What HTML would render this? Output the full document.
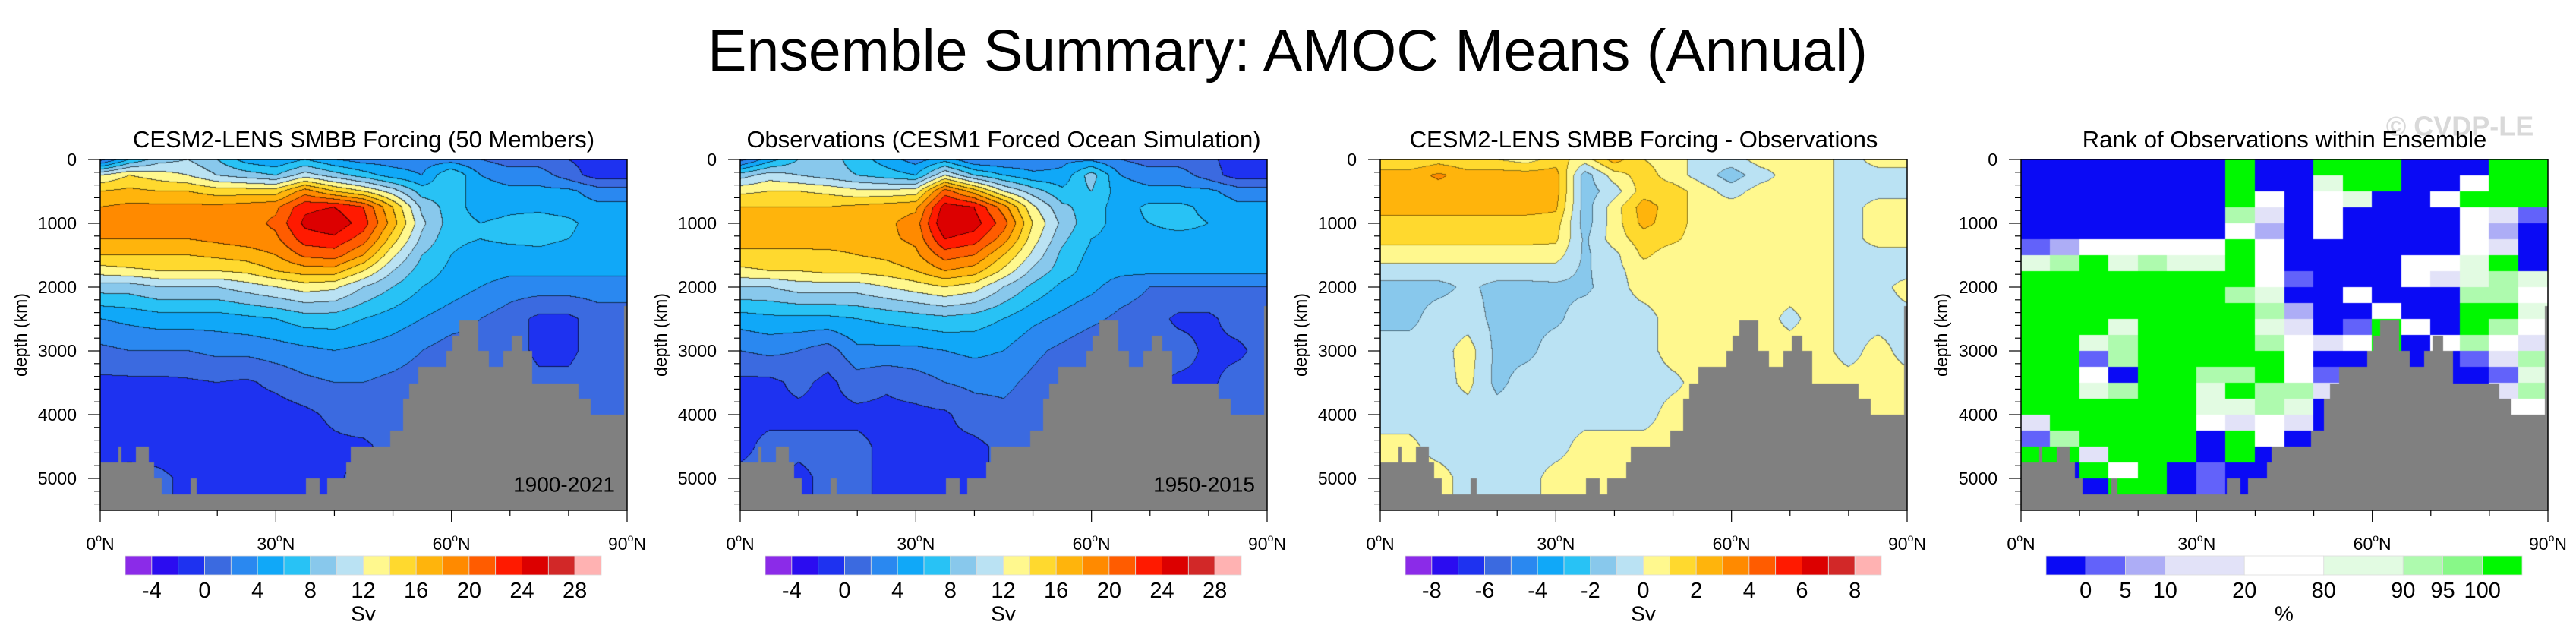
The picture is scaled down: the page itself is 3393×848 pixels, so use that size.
<!DOCTYPE html>
<html><head><meta charset="utf-8">
<style>
body{margin:0;width:3393px;height:848px;position:relative;background:#fff;overflow:hidden;font-family:"Liberation Sans",sans-serif}
canvas{position:absolute}
#ov{position:absolute;left:0;top:0}
</style></head>
<body>
<canvas id="c0" width="694" height="462" style="left:132px;top:210px"></canvas>
<canvas id="c1" width="694" height="462" style="left:975px;top:210px"></canvas>
<canvas id="c2" width="694" height="462" style="left:1818px;top:210px"></canvas>
<canvas id="c3" width="694" height="462" style="left:2662px;top:210px"></canvas>
<svg id="ov" width="3393" height="848" xmlns="http://www.w3.org/2000/svg">
<text x="1696" y="93" font-size="77" text-anchor="middle" font-family="Liberation Sans">Ensemble Summary: AMOC Means (Annual)</text>
<text x="3240" y="166" font-size="36" font-weight="bold" fill="#d9d9d9" text-anchor="middle" dominant-baseline="central">© CVDP-LE</text>
</svg>
<script>
const lats=[0,5,10,15,20,25,30,35,40,45,50,55,60,65,70,75,80,85,90];
const depths=[0,250,500,750,1000,1250,1500,1750,2000,2500,3000,3500,4000,4500,5000,5500];
const ensMean=[
[1,6,9,10,8,5,4,6,4,3,3,3,3,2,1,1,0,-1,-1],
[12,14,13,12,10,9,8,11,9,7,5,4,8,4,3,3,1,-1,-1],
[16,16.5,16,16,15,15,15,19,16,14,11,7,7,5,4.5,4.5,4.5,3,3],
[18,18.5,18.5,18.5,18.5,19,19.5,23.5,24,22,16,9.5,7,5,5.5,5.5,5,4.5,4.5],
[18.5,18.5,19,19,19,19,20.5,24.5,25.5,23,17,10.5,7,6,6.5,7,6.5,5,5],
[18,18,18,18,18.5,19,19.5,23,23.5,21,15,9.5,6.5,6,6.5,6.5,6,5,5],
[16,16,16,16,16.5,17,18,20.5,21,18,12.5,8,6,5,5,5.5,5,5,5],
[13,13.5,14,14,14,14.5,16,17,17,14,10,7,5.5,5,4.5,4.5,4.5,4.5,4.5],
[9,9,10,10,10,11,12,13,12.5,10,8,6,5,4,3,3,3,3,3],
[4,4.5,5,5,5,5.5,6,7,7,6,5,4,3,2,1,-0.5,-0.5,1,1],
[1.5,2,2,2,2.5,2.5,3,3.5,4,3.5,3,2,1,1,1,-0.5,-0.5,1,1],
[-0.5,-0.5,-0.5,-0.3,0,-0.3,0.5,1.5,2,2,1.5,1,1,1,1,0.5,0.5,1,1],
[-1,-1,-1,-1,-1,-1,-1,-0.5,0.5,1.5,1,1,1,1,1,1,1,1,1],
[-1,-1,-1,-1,-1,-1,-1,-1,-0.5,-0.5,1,1,1,1,1,1,1,1,1],
[0.5,1,0.5,-0.5,0,-0.5,0,-0.5,-0.5,1,1,1,1,1,1,1,1,1,1],
[0.5,1,0.5,-0.5,0,-0.5,0,-0.5,-0.5,1,1,1,1,1,1,1,1,1,1]];
const obsMean=[
[1,5,8,9,7,5,3,5,2,2,2.5,3.5,3.5,2,1,1,0.5,-1,-1],
[9,11,10,9,8,7,6,12,8,6,4.5,4.5,9,4,3,3,1,-1,-1],
[13.5,14,14,13.5,12.5,12.5,13,21,17,12,9,6.5,8,5,4.5,4.5,4.5,3,3],
[16,16,16,16,16.5,17,17.5,25,24,19,12.5,8.5,7,5,6.5,6.5,5.5,4.5,4.5],
[17,17,17,17,17,17.5,19,26,25,21,14,9.5,6.5,5.5,6,6.5,6,5,5],
[16.8,16.8,16.8,17,17,17.5,18.5,24,23,19,13,8.5,6,5.5,5.5,5.5,5.5,5,5],
[15.5,15.5,15.5,15.5,16,16.5,17.5,21,20,16,11.5,7.5,5.5,5,5,5,5,5,5],
[13.5,14,14,14.5,14.5,15,16,18,17,13.5,9.5,7,5,4.5,4.5,4.5,4.5,4.5,4.5],
[10,10,11,11,11,12,13,14,13,10,7.5,5.5,4.5,3,2,2,2,2,2],
[5,5.5,5.5,5.5,6,6.5,7,7.5,7,6,4.5,3.5,2.5,1.5,1,-0.5,-0.5,1,1],
[2,2.5,2,1,3.5,3.5,3.5,4,4.5,4,2.5,1.5,0.5,0.5,1,1,-0.5,-0.5,1],
[-0.5,-0.5,0.5,-0.5,1,0.3,1,2,2.5,2.5,1.5,0.5,0.5,0.5,0.5,-0.5,-0.5,1,1],
[-0.5,-0.5,-0.5,-0.5,-0.5,-0.5,-0.5,-0.3,1,1.5,1,1,1,1,1,1,1,1,1],
[-0.5,0.5,0.5,0.5,0.5,-0.5,-0.5,-0.5,-0.5,0.5,1,1,1,1,1,1,1,1,1],
[0.5,0.5,-0.5,0.5,0.5,-0.5,-0.5,-0.5,-0.5,0.5,1,1,1,1,1,1,1,1,1],
[0.5,0.5,-0.5,0.5,0.5,-0.5,-0.5,-0.5,-0.5,0.5,1,1,1,1,1,1,1,1,1]];
const diffMean=[
[1,1,1.5,1,1,0.5,1.5,0.5,2.5,1,0.5,-0.5,-0.5,0.5,0.5,0.5,-0.5,0.5,0.5],
[2.5,2.5,3.2,2.5,2.5,2.5,2.5,-1.5,0.5,1.5,0.5,-0.5,-1.5,-0.5,0.5,0.5,-0.5,-0.5,-0.5],
[2.5,2.5,2.5,2.5,2.5,2.5,2.5,-1.5,-0.5,1.5,1.5,0.5,-0.5,0.5,0.5,0.5,-0.5,-0.5,-0.5],
[2.5,2.5,2.5,2.5,2.5,2.5,2.2,-1.5,0.5,2.5,1.5,0.5,0.5,0.5,0.5,0.5,-0.5,0.5,0.5],
[1.5,1.5,1.5,1.5,1.5,1.5,1.5,-1.5,0.5,2.3,1.5,0.5,0.5,0.5,0.5,0.5,-0.5,0.5,0.5],
[1.3,1.3,1.3,1.3,1.3,1.3,1.2,-1.2,0.5,1.5,1.2,0.5,0.5,0.5,0.5,0.5,-0.5,0.5,0.5],
[0.5,0.5,0.5,0.5,0.5,0.5,0.5,-1.2,-0.3,1.2,0.5,0.5,0.5,0.5,0.5,0.5,-0.5,-0.5,-0.5],
[-0.5,-0.5,-0.5,-0.5,-0.5,-0.5,-0.5,-1.2,-0.3,0.5,0.5,0.3,0.5,0.5,0.5,0.5,-0.5,-0.5,-0.5],
[-1.3,-1.3,-1.3,-0.8,-1.3,-1.3,-1.2,-1.2,-0.5,0.5,0.5,0.5,0.5,0.5,0.5,0.5,-0.5,-0.5,0.5],
[-1.3,-1.3,-0.5,-0.5,-1.3,-1.3,-1.2,-0.5,-0.5,-0.5,0.5,0.5,0.5,0.5,-0.3,0.5,-0.5,-0.5,-0.5],
[-0.5,-0.5,-0.5,0.5,-1.3,-1.3,-0.5,-0.5,-0.5,-0.5,0.5,0.5,0.5,0.5,0.5,0.5,-0.5,0.5,-0.5],
[-0.5,-0.5,-0.5,0.3,-1.3,-0.5,-0.5,-0.5,-0.5,-0.5,-0.3,0.5,0.5,0.5,0.5,0.5,0.5,0.5,0.5],
[-0.5,-0.5,-0.5,-0.5,-0.5,-0.5,-0.5,-0.5,-0.5,-0.5,0.5,0.5,0.5,0.5,0.5,0.5,0.5,0.5,0.5],
[0.3,0.3,-0.5,-0.5,-0.5,-0.5,-0.5,0.5,0.5,0.5,0.5,0.5,0.5,0.5,0.5,0.5,0.5,0.5,0.5],
[0.5,0.5,0.5,-0.5,-0.5,-0.5,0.5,0.5,0.5,0.5,0.5,0.5,0.5,0.5,0.5,0.5,0.5,0.5,0.5],
[0.5,0.5,0.5,-0.5,-0.5,-0.5,0.5,0.5,0.5,0.5,0.5,0.5,0.5,0.5,0.5,0.5,0.5,0.5,0.5]];
const rankRows=[
"000000080088800088","000000080058800488","000000084045004888","000000063040000431",
"000000042040000420","124444484000000430","568565584000044580","888888884100043565",
"888888865004000664","888888886200400885","888588885301840864","885688886434804643",
"881688888400000136","884088668410000015","885688586630000036","888888556500000044",
"388888434300000000","168888084000000000","883888080000000000","008480100000000000",
"000880100000000000","000000000000000000"];
const topoLatEdges=[0,3.2,3.5,6.1,8.1,9.1,10.3,15.5,16.3,35.2,37.3,38.9,42.1,42.8,49.6,51.8,52.9,54.4,59.2,60.3,61.4,64.5,66.2,68.9,70.4,72.0,73.6,81.6,83.6,89.5,90];
const topoDepth=[4755,4510,4755,4510,4755,5005,5255,5005,5255,5005,5255,5005,4755,4510,4260,3755,3515,3260,3010,2770,2530,3010,3260,3010,2770,3010,3515,3755,4005,2300];
const svTicks=[-4,0,4,8,12,16,20,24,28];
const diffTicks=[-8,-6,-4,-2,0,2,4,6,8];
const rankTicks=["0","5","10","20","80","90","95","100"];
const rankEdges=[0,1,2,3,5,7,9,10,11,12];
const depthTicks=[0,1000,2000,3000,4000,5000];
const latTicks=[0,30,60,90];
const palette=['#8b2be8','#2b0cf0','#1e32f0','#3b6ae0','#2a88f0','#10a8f8','#28c2f5','#88c8ec','#bae2f3','#fff88e','#ffd92e','#ffb40c','#ff8a00','#ff5c00','#ff1a00','#dc0000','#d22828','#ffb2b2'];
const rankColors=['#0a0af5','#6262fa','#adadf6','#e2e2f8','#ffffff','#e2fbe2','#aefaae','#88f888','#00f800'];

const PL=[132,975,1818,2662],PT=210,PW=694,PH=462,DMAX=5500;
const NS='http://www.w3.org/2000/svg';
const ov=document.getElementById('ov');
function hex(c){return [parseInt(c.substr(1,2),16),parseInt(c.substr(3,2),16),parseInt(c.substr(5,2),16)];}
function interp(g,lat,d){
  let i=Math.min(17,Math.floor(lat/5)),t=(lat-lats[i])/5;
  let j=0;while(j<depths.length-2&&d>depths[j+1])j++;
  let u=Math.max(0,Math.min(1,(d-depths[j])/(depths[j+1]-depths[j])));
  const a=g[j][i]*(1-t)+g[j][i+1]*t,b=g[j+1][i]*(1-t)+g[j+1][i+1]*t;
  return a*(1-u)+b*u;
}
function drawTopo(ctx){
  ctx.fillStyle='#808080';
  for(let k=0;k<topoDepth.length;k++){
    const x0=topoLatEdges[k]/90*PW,x1=topoLatEdges[k+1]/90*PW,y0=topoDepth[k]/DMAX*PH;
    ctx.fillRect(Math.floor(x0),Math.floor(y0),Math.ceil(x1-x0)+1,PH-Math.floor(y0));
  }
}
function field(id,g,lo,step,dark){
  const cv=document.getElementById(id),ctx=cv.getContext('2d');
  const img=ctx.createImageData(PW,PH),bins=new Int16Array(PW*PH);
  const pc=palette.map(hex);
  for(let y=0;y<PH;y++){const d=(y+0.5)/PH*DMAX;
    for(let x=0;x<PW;x++){const v=interp(g,(x+0.5)/PW*90,d);
      bins[y*PW+x]=Math.max(0,Math.min(17,Math.floor((v-lo)/step)));}}
  for(let y=0;y<PH;y++)for(let x=0;x<PW;x++){
    const k=y*PW+x,b=bins[k];let c=pc[b],f=1;
    if((x<PW-1&&bins[k+1]!==b)||(y<PH-1&&bins[k+PW]!==b))f=dark;
    img.data[k*4]=c[0]*f;img.data[k*4+1]=c[1]*f;img.data[k*4+2]=c[2]*f;img.data[k*4+3]=255;}
  ctx.putImageData(img,0,0);drawTopo(ctx);
}
field('c0',ensMean,-6,2,0.35);
field('c1',obsMean,-6,2,0.35);
field('c2',diffMean,-9,1,0.55);
(function(){const ctx=document.getElementById('c3').getContext('2d');
  const cw=PW/18,rh=250/DMAX*PH;
  rankRows.forEach((row,r)=>{for(let c=0;c<18;c++){ctx.fillStyle=rankColors[+row[c]];
    ctx.fillRect(Math.floor(c*cw),Math.floor(r*rh),Math.ceil(cw)+1,Math.ceil(rh)+1);}});
  drawTopo(ctx);})();

function el(tag,attrs,txt){const e=document.createElementNS(NS,tag);for(const k in attrs)e.setAttribute(k,attrs[k]);if(txt!==undefined)e.textContent=txt;ov.appendChild(e);return e;}
const titles=["CESM2-LENS SMBB Forcing (50 Members)","Observations (CESM1 Forced Ocean Simulation)","CESM2-LENS SMBB Forcing - Observations","Rank of Observations within Ensemble"];
for(let p=0;p<4;p++){
  const L=PL[p];
  const t=el('text',{x:L+PW/2,y:194,'font-size':31,'text-anchor':'middle'},titles[p]);
  
  
  const fr=el('rect',{x:L,y:PT,width:PW,height:PH,fill:'none',stroke:'#000','stroke-width':1.5});
  
  
  for(let d=0;d<=5400;d+=200){const y=PT+d/DMAX*PH,maj=d%1000===0;
    const tk=el('line',{x1:L,x2:L-(maj?16:8),y1:y,y2:y,stroke:'#000','stroke-width':1.2});
    
    }
  depthTicks.forEach(d=>{const lb=el('text',{x:L-31,y:PT+d/DMAX*PH,'font-size':23,'text-anchor':'end','dominant-baseline':'central'},String(d));
    
    });
  for(let a=0;a<=90;a+=10){const x=L+a/90*PW,maj=a%30===0;
    const tk=el('line',{x1:x,x2:x,y1:PT+PH,y2:PT+PH+(maj?15:7),stroke:'#000','stroke-width':1.2});
    
    }
  latTicks.forEach(a=>{const lb=el('text',{x:L+a/90*PW,y:716,'font-size':23,'text-anchor':'middle','dominant-baseline':'central'});
    
    
    lb.innerHTML=a+'<tspan dy="-8" font-size="14">o</tspan><tspan dy="8">N</tspan>';});
  const yt=el('text',{x:0,y:0,'font-size':23,'text-anchor':'middle','dominant-baseline':'central',transform:'translate('+(L-105)+','+(PT+PH/2)+') rotate(-90)'},'depth (km)');
  
  
  const CL=L+33,CW=627,CY=732,CH=25;
  if(p<3){const bw=CW/18;
    for(let k=0;k<18;k++){const r=el('rect',{x:CL+k*bw,y:CY,width:bw,height:CH,fill:palette[k],stroke:'#ddd','stroke-width':0.8});
      
      }
    const ticks=p===2?diffTicks:svTicks;
    ticks.forEach((v,i)=>{const lb=el('text',{x:CL+(1+2*i)*bw,y:778,'font-size':29,'text-anchor':'middle','dominant-baseline':'central'},String(v));
      
      });
    const u=el('text',{x:CL+CW/2,y:808,'font-size':28,'text-anchor':'middle','dominant-baseline':'central'},'Sv');
    
    
  }else{const uw=CW/12;
    for(let k=0;k<9;k++){const r=el('rect',{x:CL+rankEdges[k]*uw,y:CY,width:(rankEdges[k+1]-rankEdges[k])*uw,height:CH,fill:rankColors[k],stroke:'#ddd','stroke-width':0.8});
      
      }
    rankTicks.forEach((v,i)=>{const lb=el('text',{x:CL+rankEdges[i+1]*uw,y:778,'font-size':29,'text-anchor':'middle','dominant-baseline':'central'},v);
      
      });
    const u=el('text',{x:CL+CW/2,y:808,'font-size':28,'text-anchor':'middle','dominant-baseline':'central'},'%');
    
    
  }
}
[["1900-2021",0],["1950-2015",1]].forEach(([s,p])=>{const t=el('text',{x:PL[p]+678,y:638,'font-size':28,'text-anchor':'end','dominant-baseline':'central'},s);
  
  });
</script>
</body></html>
